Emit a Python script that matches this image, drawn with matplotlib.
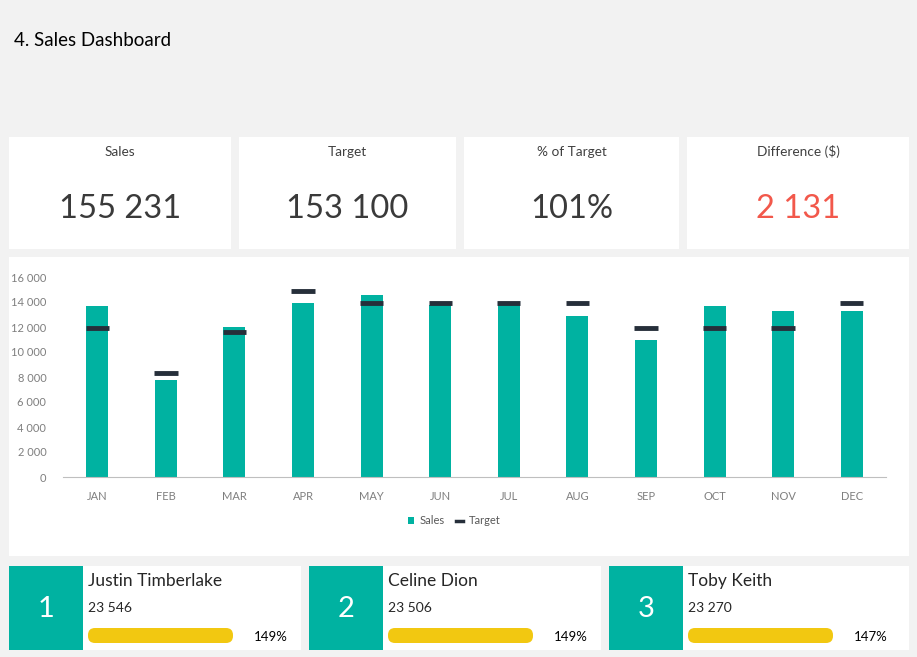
import matplotlib
matplotlib.use("Agg")
import matplotlib.pyplot as plt
from matplotlib.patches import Rectangle, FancyBboxPatch, Patch
from matplotlib.lines import Line2D
from matplotlib.ticker import FuncFormatter

plt.rcParams['font.family'] = ['Lato', 'DejaVu Sans']

months = ["JAN", "FEB", "MAR", "APR", "MAY", "JUN", "JUL", "AUG", "SEP", "OCT", "NOV", "DEC"]
sales = [13700, 7800, 12000, 13900, 14600, 13800, 13800, 12900, 11000, 13700, 13300, 13300]
targets = [11900, 8300, 11600, 14900, 13900, 13900, 13900, 13900, 11900, 11900, 11900, 13900]

kpi_labels = ["Sales", "Target", "% of Target", "Difference ($)"]
kpi_values = ["155 231", "153 100", "101%", "2 131"]

top_ranks = ["1", "2", "3"]
top_names = ["Justin Timberlake", "Celine Dion", "Toby Keith"]
top_sales = ["23 546", "23 506", "23 270"]
top_pct = ["149%", "149%", "147%"]

TEAL = "#00B2A1"
DARK = "#262F3A"
BG = "#F2F2F2"
YELLOW = "#F2C811"

W, H = 917, 657
fig = plt.figure(figsize=(W / 100, H / 100), dpi=100, facecolor=BG)

bg = fig.add_axes([0, 0, 1, 1])
bg.set_xlim(0, W)
bg.set_ylim(H, 0)
bg.axis("off")
bg.set_zorder(0)

bg.text(14, 40, "4. Sales Dashboard", fontsize=13.5, color="black", va="center", ha="left")

# KPI cards
cards = [(9, 231), (239, 456), (464, 679), (687, 909)]
for (x0, x1), lab, val in zip(cards, kpi_labels, kpi_values):
    bg.add_patch(Rectangle((x0, 137), x1 - x0, 112, facecolor="white", edgecolor="none"))
    cx = (x0 + x1) / 2
    bg.text(cx, 152, lab, fontsize=9.8, color="#404040", ha="center", va="center")
    col = "#F2584B" if lab.startswith("Difference") else "#3A3A3A"
    bg.text(cx, 209, val, fontsize=23.5, color=col, ha="center", va="center")

# chart card
bg.add_patch(Rectangle((9, 257), 900, 299, facecolor="white", edgecolor="none"))

# bottom cards
bottoms = [(9, 301), (309, 601), (609, 909)]
for (x0, x1), r, n, s, p in zip(bottoms, top_ranks, top_names, top_sales, top_pct):
    bg.add_patch(Rectangle((x0, 566), x1 - x0, 84, facecolor="white", edgecolor="none"))
    bg.add_patch(Rectangle((x0, 566), 74, 84, facecolor=TEAL, edgecolor="none"))
    bg.text(x0 + 37, 609, r, fontsize=21, color="white", ha="center", va="center")
    bg.text(x0 + 79, 581, n, fontsize=12.5, color="#262626", ha="left", va="center")
    bg.text(x0 + 79, 608, s, fontsize=10, color="#262626", ha="left", va="center")
    bg.add_patch(FancyBboxPatch((x0 + 79, 628), 145, 15,
                                boxstyle="round,pad=0,rounding_size=7",
                                facecolor=YELLOW, edgecolor="none"))
    bg.text(x0 + 279, 637, p, fontsize=9.5, color="black", ha="right", va="center")

# chart axes
ax = fig.add_axes([63 / W, (H - 477) / H, 823 / W, 200 / H])
ax.set_facecolor("none")
ax.set_zorder(2)
x = list(range(len(months)))
ax.bar(x, sales, width=0.32, color=TEAL, zorder=2)
ax.hlines(targets, [i - 0.17 for i in x], [i + 0.17 for i in x], colors=DARK,
          linewidth=3.5, zorder=3)
ax.set_xlim(-0.5, len(months) - 0.5)
ax.set_ylim(0, 16000)
ax.set_yticks(range(0, 16001, 2000))
ax.yaxis.set_major_formatter(FuncFormatter(lambda v, _: f"{int(v):,}".replace(",", " ")))
ax.set_xticks(x)
ax.set_xticklabels(months)
for sp in ["top", "right", "left"]:
    ax.spines[sp].set_visible(False)
ax.spines["bottom"].set_color("#BFBFBF")
ax.tick_params(axis="both", length=0, labelsize=8, colors="#7F7F7F")
ax.tick_params(axis="x", pad=10)
ax.tick_params(axis="y", pad=12)

handles = [Patch(facecolor=TEAL, edgecolor="none", label="Sales"),
           Line2D([0], [0], color=DARK, lw=2.5, label="Target")]
leg = ax.legend(handles=handles, loc="center", bbox_to_anchor=(0.475, -0.22), ncol=2,
                frameon=False, fontsize=8, handlelength=0.6, handleheight=0.6,
                handletextpad=0.5, columnspacing=1.0)
for t in leg.get_texts():
    t.set_color("#595959")

fig.savefig("out.png", dpi=100, facecolor=BG)
